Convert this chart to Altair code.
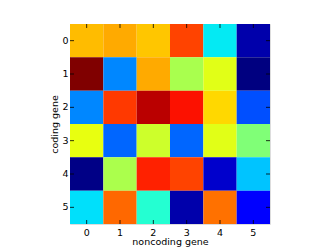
import altair as alt
import pandas as pd

rows = ["0", "1", "2", "3", "4", "5"]
cols = ["0", "1", "2", "3", "4", "5"]
values = [
    [0.71, 0.73, 0.70, 0.84, 0.355, 0.037],
    [1.00, 0.258, 0.73, 0.555, 0.622, 0.0],
    [0.258, 0.85, 0.95, 0.893, 0.68, 0.203],
    [0.63, 0.225, 0.598, 0.225, 0.622, 0.505],
    [0.005, 0.557, 0.876, 0.84, 0.066, 0.317],
    [0.345, 0.80, 0.394, 0.037, 0.79, 0.115],
]

# jet colormap stops
jet_domain = [0, 0.11, 0.125, 0.34, 0.35, 0.375, 0.64, 0.65, 0.66, 0.89, 0.91, 1.0]
jet_range = ["#000080", "#0000ff", "#0000ff", "#00dbff", "#00e5f7", "#14ffe2",
             "#f0ff08", "#f7f500", "#ffeb00", "#ff1400", "#e80000", "#800000"]

recs = []
for i, r in enumerate(rows):
    for j, c in enumerate(cols):
        recs.append({"row": r, "col": c, "v": values[i][j]})
df = pd.DataFrame(recs)
ticks_df = pd.DataFrame({"k": cols})

W = H = 200
xs = alt.X("col:O", sort=cols, scale=alt.Scale(paddingInner=0, paddingOuter=0),
           axis=alt.Axis(title="noncoding gene", labelAngle=0, ticks=False, domain=False,
                         labelFont="DejaVu Sans", labelFontSize=9.5, labelPadding=3,
                         titleFont="DejaVu Sans", titleFontSize=9.5, titleFontWeight="normal",
                         titlePadding=0, labelColor="#000", titleColor="#000"))
ys = alt.Y("row:O", sort=rows, scale=alt.Scale(paddingInner=0, paddingOuter=0),
           axis=alt.Axis(title="coding gene", ticks=False, domain=False,
                         labelFont="DejaVu Sans", labelFontSize=9.5, labelPadding=2,
                         titleFont="DejaVu Sans", titleFontSize=9.5, titleFontWeight="normal",
                         titlePadding=2, labelColor="#000", titleColor="#000"))

heat = alt.Chart(df).mark_rect().encode(
    x=xs, y=ys,
    color=alt.Color("v:Q", scale=alt.Scale(domain=jet_domain, range=jet_range,
                                           interpolate="rgb"), legend=None),
)

tk = dict(color="#000", strokeWidth=0.8)
xt = alt.Chart(ticks_df)
t1 = xt.mark_rule(**tk).encode(x=alt.X("k:O", sort=cols), y=alt.value(0), y2=alt.value(4))
t2 = xt.mark_rule(**tk).encode(x=alt.X("k:O", sort=cols), y=alt.value(H - 4), y2=alt.value(H))
t3 = xt.mark_rule(**tk).encode(y=alt.Y("k:O", sort=rows), x=alt.value(0), x2=alt.value(4))
t4 = xt.mark_rule(**tk).encode(y=alt.Y("k:O", sort=rows), x=alt.value(W - 4), x2=alt.value(W))

chart = alt.layer(heat, t1, t2, t3, t4).properties(
    width=W, height=H,
    autosize=alt.AutoSizeParams(type="none"),
    padding={"left": 62, "top": 16, "right": 54, "bottom": 24},
).configure_view(stroke="#444", strokeWidth=1).configure(background="white")

chart.save("out.html", embed_options={"renderer": "svg", "actions": False})
